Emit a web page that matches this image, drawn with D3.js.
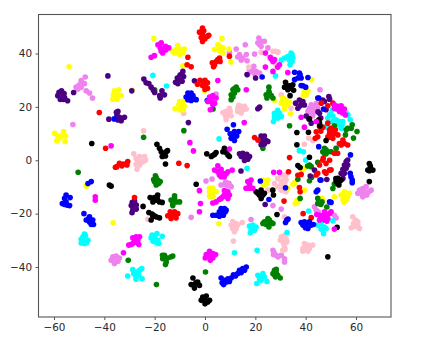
<!DOCTYPE html>
<html>
<head>
<meta charset="utf-8">
<style>
html, body { margin: 0; padding: 0; background: #fff; }
svg { display: block; }
.tick text { font-family: "DejaVu Sans", sans-serif; font-size: 10.4px; fill: #2a2a2a; }
.tick line, .domain { stroke: #555; }
</style>
<script src="https://cdn.jsdelivr.net/npm/d3@7"></script>
</head>
<body>
<svg id="chart" width="423" height="345"></svg>
<script>
const width = 423;
const height = 345;
const dotRadius = 2.8;

const xTicks = [-60, -40, -20, 0, 20, 40, 60];
const yTicks = [-40, -20, 0, 20, 40];

const indigoPoints = [[-58.5,24.2],[-58,25.5],[-57,26],[-56,25],[-55.8,23.5],[-57,23],[-56.5,24.5],[-57.5,22.8],[-56.2,22.8],[-54.6,22.3],[-52.2,25.4],[-38.6,31.6],[-29.1,26],[-24.3,30.4],
  [-34.6,18.3],[-35,17],[-34,16.1],[-33.3,14.8],[-34.6,15.1],[-32,16.1],[-33,15.6],[-38.2,15.4],[-35.2,18],
  [-23.4,29],[-22.3,28.7],[-21.4,27.4],[-20.5,26.2],[-20,25.4],[-18,24.2],[-17.1,26],[-16.1,24.5],[-17.8,23.3],
  [-8.8,33.3],[-11.7,29.2],[-10.4,29.6],[-10.1,31.4],[-8.5,31.4],[-9.4,30.4],[-10.8,28.7],[-9.1,29.6],[-11,30.8],[-9.8,32],[-4.2,29.8],[-6.6,14.1],
  [21.7,19.9],[21,19.3],[22.3,9.1],[23.6,9.1],[21.6,7.6],[22.6,7.4],[24.3,7.4],[25,7],[22.3,5.8],[23.6,6.1],
  [13.7,2.4],[15,2.6],[16.6,2.2],[17.7,1.4],[14.4,1.4],[15.7,0.7],[17,0.4],[15.7,-0.1],[15,1.5],
  [16.7,32.1],[20.1,30.8],[36,21.4],[37.5,22.6],[38.9,22],[39.5,20.7],[37.8,20.4],[36.9,19.5],[38.4,21],
  [44.8,23.3],[46.8,22.6],[49.2,23.9],[49.5,22.9],[47.5,22],[45.5,17.6],[44.9,18.2],[40.2,16.6],[42.2,13.9],[41.3,15.5],[48.1,18.9],[46,15.8],
  [56.1,-0.5],[56.7,-1.8],[55.4,-1.8],[54.8,-3.4],[56.1,-3],[55.4,-4.9],[54.1,-4.9],[54.8,-6.8],[56.7,0.1],[43.5,-3.7],[41.8,-5.9],[48.4,-7.2],
  [14.3,-4],[23.9,-16.6],
  [-28,-15.3],[-28.9,-15.8],[-29.3,-17],[-27.3,-16.8],[-28.3,-17.6],[-27.3,-18.3],[-29,-19.7],[-28,-16],[-28.7,-18.7]];

const blackPoints = [[-45,6.3],[-19.1,6],[-18.1,4.5],[-17.4,3.2],[-16.5,2.4],[-15.4,3.2],[-17,1.4],[-15.7,1.6],[-14.9,3.6],[-15.7,-1.4],
  [0.7,2.4],[2.5,1.4],[3.8,2.2],[4.4,2.9],[3,1.8],[7.7,4.5],[7.1,3.2],[8.4,2.9],[9.1,2],[9.7,1.4],
  [31.6,27.4],[32.9,26.4],[34.2,27],[32.5,27.9],[33.6,27.9],[32,29.2],[34.9,28.3],[33.8,24.2],[35.2,26.2],
  [36.5,10.4],[41.1,10.5],[41.5,15.5],[48.1,7.4],[36.5,5.8],[41.5,1.1],[36.9,-2],[37.8,-2.7],
  [45.5,13.9],[45.2,15.2],[45.7,12.8],
  [52.8,-6.8],[52.1,-8],[53.4,-8],[54.1,-7.4],[53.2,-9.3],[52,-6.9],[52.8,-8.7],
  [65.3,-1.2],[65.7,-3],[64.7,-3.7],[66.7,-3.7],[65.3,-8],[65.7,-2.2],[65.3,-3.9],
  [21,-12.4],[22.3,-11.2],[21.6,-13],[20.3,-11.8],[23,-13],[22.3,-14.3],[23.6,-12.4],[26.9,-11.2],[27.2,-13],[28.6,-20.3],
  [-38,-9.3],[-37.3,-9.7],[-3.5,-9],[-20.1,-14],[-18.8,-13],[-19.4,-15],[-18.1,-15.6],[-20.7,-15.6],[-17,-15.8],[-21.8,-14],[-19,-14.2],[-24.6,-17.3],
  [-22.3,-19.6],[-21,-20.2],[-20.1,-20.8],[-21.4,-22.4],[-19.4,-21.2],[-18.1,-21.6],[-20.7,-21],
  [-4.8,-44.1],[-5.5,-46.6],[-4.2,-46.6],[-2.9,-45.6],[-2.2,-46.9],[-4.2,-47.9],[-3.6,-45.8],
  [-0.9,-51.3],[0.5,-50.9],[-0.2,-52.5],[1.1,-53.1],[-1.5,-52.5],[0,-53.8],[1.8,-52.5],
  [48.8,-36.2],[52.5,-25.1]];

const greenPoints = [[-20,26.4],[3.2,19.2],[-8.4,11.1],[-24.4,8.6],
  [12.4,27.4],[13,26.4],[11.1,26.4],[11.7,25.2],[10.4,24.5],[11.1,23.7],[10.4,22.7],[11.6,26.8],
  [25.4,27.4],[25.4,25.8],[24.3,24.5],[26.3,24.2],[24.6,23.3],[25.6,25],[27,23.3],
  [33.6,12.9],[23,4.5],
  [56.7,12],[58.5,13.3],[56.1,11.4],[58.1,12],[60.4,10.8],[59,8.3],[55.8,9.5],[51.4,12.9],
  [48.1,3.9],[47.5,2.6],[48.8,3.2],[46.8,3.2],[48.1,2.4],[47.5,4.5],[52.1,4.5],[50.1,3.2],[44.8,-0.8],
  [41.5,-1.8],[40.8,-2.2],[42.2,-2.4],[36.9,-7.1],[41.5,-7.7],[42.4,-6.4],[51.4,-8.9],[50.8,-10.6],
  [37.8,-14.3],[44.8,-14.3],[46.5,-15.6],[44.8,-16.2],[46,-16.6],[48.4,-17.5],
  [25,-21.8],[23.6,-23.1],[25,-23.3],[26.3,-23.3],[27,-23.7],[25.4,-25],[24.3,-24.1],[23,-23.7],[25.6,-22.4],
  [27.6,-41.2],[27,-42.5],[28.3,-42.2],[28.9,-43.1],[29.9,-44.1],[28,-43.7],[28.3,-40.9],[27.6,-42.9],
  [-50.4,-4.5],[-19.4,-6.5],[-20.1,-8],[-18.8,-7.4],[-20.4,-7.2],[-17.8,-8],[-19.4,-9.3],[-18.4,-8.7],[-19.7,-5.8],
  [-12.1,-14.3],[-13.5,-14.9],[-11.5,-15.6],[-12.8,-16.2],[-10.1,-15.6],[-12.1,-13.3],[-12.8,-17],
  [-16.1,-35.6],[-16.8,-36.9],[-14.8,-36.6],[-15.4,-38.1],[-13.5,-36.2],[-15.7,-39.1],[-16.9,-35.6],[-12.8,-35.9],
  [-30.5,-37.5],[-19.3,-46.6],[0.2,-41.9]];

const bluePoints = [[-36.1,15.5],[-6.8,25.2],[-5.5,25.2],[-7.5,23.7],[-6.2,23.7],[-4.8,24.2],[-6.8,22.7],[-5.5,22.4],[-4.2,22.9],[-6.4,24.6],[-3.5,22.7],[0.9,22.4],
  [11.3,13.3],[8.8,11.6],[10,9.9],[11.7,10.8],[13.4,10.8],[11.1,9.1],[12.6,9.1],[10.4,8.2],[11.7,7.4],
  [22.7,31.2],[35.6,33],[37.5,32.7],[40.9,31],[35.6,30.2],[36.9,30.8],[38.2,30.8],[38.9,27.9],[40,27.4],[37.8,32],[38.2,28],[45.2,23.3],[47.1,19.2],[45.2,5.1],[57.8,2],
  [44.2,-11.8],[44.8,-11.2],[45.7,-7.4],[58,-6.2],[58.5,-7.4],[58.5,-8.4],[57.7,-4.9],[50.1,-15.8],[49.5,-15.6],
  [22,-7.8],[25.4,-14.7],[32.5,-22.4],[33,-22],[32,-23.3],[32,-10.3],[46.1,-7.4],
  [38.2,-23.3],[39.5,-23.1],[38.9,-24.3],[40.2,-24.1],[40.9,-25.6],[42.2,-24.3],[39.9,-25.3],[43.1,-24.1],[41.5,-23.1],
  [16.4,-40],[15,-40.6],[13.7,-41.2],[14.4,-42.1],[13,-42.5],[12.1,-43.4],[11.3,-42.9],[10.4,-44.1],[9.1,-44.4],[7.7,-45],[6.4,-44.1],[6.8,-45.9],[7.4,-46.6],[9.7,-45.4],[8.4,-45.6],[15.7,-41.2],
  [-55.2,-13],[-55.8,-14.3],[-56.7,-16.2],[-55.2,-15.6],[-53.6,-14],[-53.8,-17],[-55.8,-16.6],[-54.8,-16.8],
  [-48.1,-20],[-46.5,-8.7],[-45.2,-8],[-45.9,-21.2],[-47.2,-22.4],[-45.9,-23.1],[-44.6,-22.4],[-45.2,-24.1],[-44.3,-24.1],[-46.2,-21.8],
  [3.1,-20.6],[4.4,-20.6],[5.7,-19.3],[6.4,-18.1],[7.7,-18.1],[8.4,-18.7],[7.1,-19.3],[5.7,-21],[7.3,-20.6],[8,-19.4],[6.4,-20]];

const cyanPoints = [[-20.7,31.8],[-15.3,27.8],[5.6,8],[16.7,-3],
  [31.6,38.3],[30.3,37.5],[32.9,38.9],[34.2,40.2],[34.9,38.3],[33.6,37.5],[34.6,37],[33.8,35.8],[33.3,38],[34.6,39.6],[28,31.6],
  [28.3,17],[27.6,17.6],[29.6,17.6],[30.3,16.4],[28.9,15.8],[27.6,16.2],[27.2,14.5],[28.9,18.7],
  [49.5,17],[48.8,15.8],[50.5,14.5],[52.1,15.2],[50.8,16.6],[53.4,14.5],[54.5,13.3],[52.8,13.3],[54.7,14.5],[56.1,17.7],[56.8,17],[57.7,15.2],[54.1,12],[50.5,18.7],[46.4,12],[48.1,12.4],
  [37.5,3.6],[39.1,3.2],[40,0.1],[52.1,4.5],[41.2,-19],[32.6,-27.1],[20.7,-33.7],[11.7,-34.7],
  [17.7,-24.7],[19,-24.3],[20.3,-25],[19.7,-26.2],[18.3,-25.8],[18,-27.2],[18.7,-25],
  [44.8,-24.3],[46.1,-23.7],[47.5,-25],[46.1,-25.8],[48.1,-25.6],[47.1,-27.5],[46.8,-26.2],[50.8,-22.7],
  [22.3,-43.7],[21,-43.1],[23,-42.5],[23.6,-43.7],[21.7,-44.6],[24.6,-45.4],[20.6,-46.2],[22.3,-45],
  [-48.5,-28.7],[-49.2,-29.6],[-47.5,-28.3],[-46.5,-30],[-47.9,-31.2],[-49.2,-31],[-48.5,-30.3],[-47,-30.8],[-47.9,-27.7],
  [-20,-28.7],[-21.4,-29.1],[-19.1,-27.5],[-17,-28.5],[-20.7,-30.3],[-18.7,-30],[-19.4,-30.8],[-21,-28],[-18.4,-31.2],
  [-27.4,-41.9],[-28.3,-42.5],[-26,-41.2],[-25.1,-40.6],[-26.4,-43.1],[-25,-44.4],[-27.4,-43.7],[-30.7,-43.4],[-28.7,-41],[-27.4,-44.6]];

const yellowPoints = [[-54,35],[-20.3,45.6],[-11.5,41.5],[-12.1,40.2],[-10.8,43],[-9.5,41.5],[-8.2,41.7],[-10.1,39.6],[-11.2,40.8],[-8.8,40.2],[-12.8,40.8],[-8.8,35.4],
  [5.8,42.7],[3.8,41.5],[6.7,45.6],[5.1,43.3],[7.1,40.2],[9.5,41.7],[10.3,36.8],[7.1,42.1],[5.8,41],
  [-0.2,26],[-29,26.3],[-36,26],[-34.2,26.4],[-36.4,24.5],[-34.6,24.5],[-33.3,24.2],[-36.6,22.9],[-35,22.9],[-36,23.6],
  [-9.5,20.8],[-10.1,22],[-8.8,22],[-8.8,20.2],[-9.5,19.2],[-8.2,20.2],[-11.9,19.3],[-10.1,18.9],[-8.6,18.9],[-10.4,20.8],
  [-59.8,10.1],[-58.5,9.1],[-56.2,10.8],[-57.1,9.1],[-55.4,9.1],[-58.9,7.3],[-55.6,7],[-57.8,8.3],
  [27.6,22.4],[30.9,23.3],[32.2,21.4],[33.6,21.7],[31.6,20.2],[30.3,21.4],[32,22.7],[31.6,19.2],[34,17.4],[30.9,22.4],[32.9,20.8],
  [39.5,25.8],[40.9,25.8],[40.2,24.5],[39.1,24.2],[40.2,26.4],[42.4,30.2],
  [35.6,-8.4],[34.9,-9],[32.9,-10.6],[38.6,-3.4],[39.5,-3],[36.5,-15],[36.9,-15.6],[35.9,-16.2],[46.8,-15],[46.1,-16.2],[48.5,-17.8],[51.4,-13.7],
  [55.4,-11.8],[57.4,-12.4],[54.1,-13],[56.7,-13.7],[55.4,-13.7],[54.8,-14.7],[56.1,-15],[55.6,-13],[55.2,-15.6],
  [24,-8],[23,-7.4],[25,-7.4],[23.6,-9.3],[24.6,-8.7],[23,-8.7],[39.5,-11.2],[46.5,-14.3],[5.5,-23.8],
  [1.8,-10.5],[3.1,-10.5],[1.8,-11.8],[3.4,-11.8],[2.4,-13],[1.8,-13.4],[3.1,-13.7],[4.4,-11.8],[2.4,-11],
  [-47.2,-9.7],[-36.5,-23.4]];

const magentaPoints = [[-18.7,43.3],[-17.4,44],[-15.7,42.7],[-14.4,42.1],[-17.8,42.1],[-16.5,41.5],[-17.4,40.8],[-15.7,41.2],[-16.8,40.2],[-20.1,39.2],[-21.4,38.6],
  [5.1,29.9],[1.8,23.7],[3.1,24.2],[4.4,23.3],[1.1,22],[2.4,22],[3.8,21.4],[3.1,20.8],[2.4,22.8],[2.1,18.9],
  [16.4,26.4],[24,40.2],[24,34.9],[26.3,38],[27,37],[27.6,37.7],[27,33.3],[29.6,35.8],[28.9,34.9],[26,38.6],[32.9,32.9],[38.2,16.1],[15.6,14.1],[9.7,4.2],[44.2,14.5],
  [51.4,20.8],[52.8,20.2],[54.1,19.5],[55.4,19.2],[53.4,18.3],[54.7,17.7],[52.4,19.2],[55.8,17],[54.1,20.4],[51.4,19.5],[39.5,12.4],
  [-6,6.6],[-4.6,3.5],[-37.3,5.4],
  [5.1,-2.1],[6.4,-3.4],[3.8,-3.7],[5.1,-4.3],[7.1,-4.9],[5.7,-5.5],[9.1,-4.3],[10.8,-3.7],[7.7,-6.2],[6.4,-6.2],[8.4,-5.1],
  [-2.2,-11.4],[-1.8,-16.2],[-2.2,-19.3],
  [6.4,-14.3],[7.7,-13],[9.1,-11.8],[8.4,-12.4],[7.1,-13.7],[5.7,-14.7],[9.7,-13],[9.1,-14.3],[3.1,-16],[4.4,-15.6],[7.7,-11.4],
  [17,-8],[17.7,-8.9],[18.3,-7.4],[16.3,-10.5],[17.7,-10.5],[19,-10.5],[17.7,-9.7],[27.3,-4.5],[29.6,-4.5],
  [-43.6,-13.7],[-43.6,-15],[-32.4,-34.7],
  [-28.7,-29.1],[-27.4,-28.7],[-26,-28.7],[-26.7,-30],[-28,-30],[-28.7,-31.2],[-30.3,-31.8],[-26.3,-31.6],[-29.4,-31.6],[-27,-30.8],
  [0.5,-35.3],[1.8,-34.1],[3.1,-35],[4.2,-35.3],[1.8,-35.6],[0.1,-36.6],[3.1,-36.6],[2.1,-37.5],
  [45.5,-20.6],[47.5,-19.3],[46.8,-20.6],[48.1,-20.6],[48.8,-21.8],[45.5,-22.4],[47.5,-22.4],[46.1,-21.6],[49.5,-20],[48.4,-22.8],[44.4,-20.3],[47.5,-21.2],[51.4,-25.8],[50.1,-19.3]];

const pinkPoints = [[-8.5,17.5],[-24.4,11],[-28.3,2.4],[-27.4,0.7],[-26,1.4],[-24,1.4],[-23.6,0.1],[-25.3,-0.5],[-26.7,-0.5],[-27.4,-1.5],[-26,-1.8],[-24.6,-0.6],[-27,-3.4],[-22.7,-22.1],
  [9.7,19.5],[8.4,18.3],[10,18.3],[7.1,17.9],[9.1,17],[8.1,16.7],[10.4,16.7],[8.4,15.2],
  [14.4,20.2],[13,19.5],[15.7,20.2],[15,18.9],[13,18.3],[16.4,19.2],[14.4,17.7],[13.4,20.6],
  [22.3,40.5],[27,40.8],[29,40.5],[28,40.8],[25.6,38.3],[28.3,35.2],[27.6,36.7],[17.4,34.9],[30.3,24.5],[34.2,19.5],
  [41.2,8.3],[42.8,7.4],[39.5,6],
  [30.3,-5.5],[32.2,-7.4],[30.3,-8],[31.6,-6.8],[28.9,-6.8],[32.2,-5.4],[31.6,-8.7],[30.3,-9.3],[25,-11.2],[27,-11.2],[30.3,-11.2],[32.2,-11.8],[28.9,-9.9],[27.6,-8.7],[31.6,-21.2],
  [11,-23],[12.4,-23.7],[10.4,-24.3],[11.7,-24.6],[13,-24.3],[11,-25.6],[12.4,-25.6],[11.7,-26.8],[14.8,-23.3],[11.3,-30.3],
  [31.6,-28.1],[30.3,-28.7],[32.2,-29.3],[30.9,-30],[32.5,-30.6],[31.2,-31.2],[31.6,-32.5],[30.9,-33.7],[31.8,-33.4],[29.9,-30],
  [39.5,-31.2],[40.9,-31.8],[42.8,-31.8],[38.9,-33.1],[40.2,-33.1],[41.5,-33.1],[38.9,-34.1],[40.9,-34.1],
  [58.7,-21.2],[59.8,-22.4],[60.7,-23.1],[59,-23.7],[60.7,-24.3],[61.4,-25.6],[58.1,-25.3],[59.8,-24.8]];

const violetPoints = [[-47.6,31.2],[-49.2,29.9],[-47.9,28.7],[-49.9,28.3],[-51.2,27.4],[-49.2,27.4],[-50.5,26.7],[-47.2,26],[-45.9,25.2],[-44.7,23.3],[-52.5,13.4],[4.4,24.8],
  [21.4,45.8],[22.3,44.6],[21,44],[23.6,44.6],[22.3,42.7],[21.7,43.4],[25,42.1],[16,43.3],[12.4,41.7],[9.7,40.5],[16.4,39.6],[19.7,39.8],[13.7,39.6],[13,38.7],[15,38.3],[14.4,37.5],[16.7,37.3],
  [19,34.6],[18.3,33.3],[20.3,33.3],[19.7,32.4],[21.7,32.7],[17.7,34],[17,32.1],[19.4,35.2],[45.7,26.4],
  [42.8,20.2],[41.5,19.5],[40.9,18.3],[42.8,18.3],[44.2,21.2],[42.2,20.8],[43.5,19.5],[44.8,19.5],[41.5,17],[42.8,16.7],[43.8,18.2],
  [61.4,-11.2],[62.7,-10.6],[64,-9.9],[66,-11.2],[62,-12.4],[60.7,-12.4],[63.4,-11.8],[64.3,-13],[65.1,-11.8],[62.7,-13.7],
  [18.3,-22.2],[27,-33.7],[27.2,-35.3],[28.3,-35.6],[30.3,-35.6],[31.6,-36.9],[29,-36.2],[31.6,-38.1],[27.4,-34.6],
  [30.3,-18.3],[27,-17],[43.5,-17.4],[44.2,-18.7],[45,-19.3],[51.4,-20.6],[52.1,-21.6],
  [0.4,-7.8],[2.8,-7],[9.5,-8.6],[10.4,-9.9],[7.7,-9],[6.4,-9.3],[9.1,-9.6],[8.2,-8.2],[-5.5,-21.4],
  [-36.6,-36.2],[-35.3,-35.9],[-34,-36.6],[-37.3,-37.5],[-36,-37.4],[-34.6,-37.8],[-36,-38.7],[-36.6,-37.2]];

const redPoints = [[-1,49.5],[-2.2,48],[-0.5,48.5],[1,46.5],[-1,47],[1.5,46.8],[-1.5,46],[0,45.5],[-1,44.5],[-6.8,38.6],[-7.1,35.8],[-5.5,35],
  [-3,28.5],[-2,30],[-1,29.5],[0,30],[1,29],[0,28],[1,27],[-1,28],[0,26.5],
  [2.9,36.5],[3.8,35.8],[5.1,37.7],[6,37],[4.4,37],[3.4,35],[5.8,38.3],[9.7,39],
  [-42,17.9],[-39.5,4.5],[-10.4,-1.1],[-7.1,-2],
  [-35,-2.4],[-34,-1.1],[-32.4,-1.4],[-30.7,-0.5],[-31,-1.8],[-35.6,-2.6],[-33,-2.1],[-28,-14],
  [-14.8,-20.8],[-13.8,-19.3],[-12.1,-19.3],[-10.8,-20],[-12.8,-20.6],[-13.5,-21.8],[-11.5,-21.6],[-12.2,-20.4],
  [19.7,8.5],[21,7.6],
  [46.2,21.4],[48.8,20.4],[50.8,21.4],[45.5,12.6],[44.2,10.7],[44.8,8.8],[46,10.9],[46.8,12.4],[43.8,8.2],[48.8,13.9],[49.5,11.3],[50.1,9.5],[51.4,10.1],[48.8,8.8],[50.8,8.2],[52.8,9.5],[50,12],
  [49.5,10],[50.5,11],[51.8,11.4],[49.6,8.6],
  [54.1,5.7],[55.4,6.3],[53.4,6.3],[56.7,5.7],[54.8,7.6],[33.6,1],[51.4,2.6],[52.7,2.6],[49.5,0],[48.1,-1.2],[46.8,0],[45.5,-1.8],[44.8,-4.9],[49.5,-3.7],[50.1,-3.6],[47.5,-4.3],[48.1,-4.9],
  [36.9,-5.6],[33.2,-4.3],[38.2,-5.3],[37.5,-10.2],[37.8,-11.8],[31.4,-15.3],[39,-20],[42.2,-21.5],[44.2,-5.5],[47,0.8]];

const series = [
  { points: violetPoints, color: "#ee82ee" },
  { points: pinkPoints, color: "#ffc0cb" },
  { points: yellowPoints, color: "#ffff00" },
  { points: cyanPoints, color: "#00ffff" },
  { points: greenPoints, color: "#008000" },
  { points: indigoPoints, color: "#4b0082" },
  { points: redPoints, color: "#ff0000" },
  { points: blackPoints, color: "#000000" },
  { points: bluePoints, color: "#0000ff" },
  { points: magentaPoints, color: "#ff00ff" }
];

// axis box in page pixels
const margin = { left: 38.5, right: 391, top: 14.5, bottom: 317 };

const xScale = d3.scaleLinear()
    .domain([-60, 60])
    .range([54, 356]);
const yScale = d3.scaleLinear()
    .domain([-40, 40])
    .range([267, 53.5]);

const svg = d3.select("#chart");

const dots = svg.append("g");
series.forEach(s => {
    dots.append("g")
        .attr("fill", s.color)
        .selectAll("circle")
        .data(s.points)
        .enter()
        .append("circle")
        .attr("cx", d => xScale(d[0]))
        .attr("cy", d => yScale(d[1]))
        .attr("r", dotRadius);
});

svg.append("rect")
    .attr("x", margin.left)
    .attr("y", margin.top)
    .attr("width", margin.right - margin.left)
    .attr("height", margin.bottom - margin.top)
    .style("fill", "none")
    .style("stroke", "#555")
    .style("stroke-width", 1.1);

const xAxis = svg.append("g")
    .attr("transform", "translate(0," + margin.bottom + ")")
    .call(d3.axisBottom(xScale).tickValues(xTicks).tickSize(3).tickPadding(4));
xAxis.select(".domain").remove();

const yAxis = svg.append("g")
    .attr("transform", "translate(" + margin.left + ",0)")
    .call(d3.axisLeft(yScale).tickValues(yTicks).tickSize(3).tickPadding(3.5));
yAxis.select(".domain").remove();
</script>
</body>
</html>
